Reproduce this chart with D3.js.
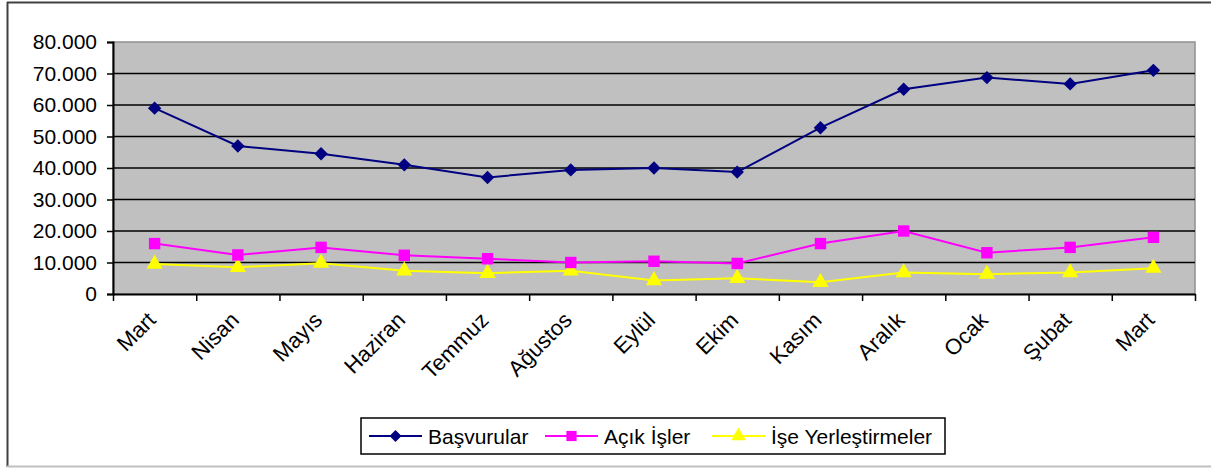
<!DOCTYPE html>
<html>
<head>
<meta charset="utf-8">
<script src="https://cdn.jsdelivr.net/npm/d3@7"></script>
<style>
  body { margin: 0; background: #fff; }
  text { font-family: "Liberation Sans", Arial, sans-serif; fill: #000; }
</style>
</head>
<body>
<div id="chart"></div>
<script>
var months = ["Mart", "Nisan", "Mayıs", "Haziran", "Temmuz", "Ağustos", "Eylül", "Ekim", "Kasım", "Aralık", "Ocak", "Şubat", "Mart"];
var basvurular = [59000, 47000, 44500, 41000, 37000, 39400, 40000, 38700, 52800, 65000, 68700, 66700, 71000];
var acikIsler = [16000, 12400, 14800, 12300, 11200, 10000, 10400, 9700, 16000, 20000, 13100, 14800, 18000];
var iseYerlestirmeler = [9500, 8500, 9800, 7400, 6600, 7400, 4300, 5000, 3700, 6800, 6300, 6800, 8200];
var yTicks = [0, 10000, 20000, 30000, 40000, 50000, 60000, 70000, 80000];
var yTickLabels = ["0", "10.000", "20.000", "30.000", "40.000", "50.000", "60.000", "70.000", "80.000"];
var seriesNames = ["Başvurular", "Açık İşler", "İşe Yerleştirmeler"];

var W = 1211, H = 468;
var plot = { left: 113, top: 42, right: 1195, bottom: 294 };

var svg = d3.select("#chart").append("svg")
  .attr("width", W).attr("height", H);

// outer frame
svg.append("line").attr("x1", 7).attr("x2", W).attr("y1", 2.5).attr("y2", 2.5)
  .attr("stroke", "#404040").attr("stroke-width", 2);
svg.append("line").attr("x1", 7.5).attr("x2", 7.5).attr("y1", 2).attr("y2", 467)
  .attr("stroke", "#404040").attr("stroke-width", 2);
svg.append("line").attr("x1", 7).attr("x2", W).attr("y1", 466.5).attr("y2", 466.5)
  .attr("stroke", "#c0c0c0").attr("stroke-width", 2);

var idx = d3.range(months.length);
var xBand = d3.scaleBand().domain(idx).range([plot.left, plot.right]).paddingInner(0).paddingOuter(0);
var xEdge = d3.scaleLinear().domain([0, months.length]).range([plot.left, plot.right]);
var y = d3.scaleLinear().domain([0, 80000]).range([plot.bottom, plot.top]);
var cx = i => xBand(i) + xBand.bandwidth() / 2;

// excel-style diamond (square rotated 45deg)
var diamond = {
  draw: function(ctx, size) {
    var r = Math.sqrt(size / 2);
    ctx.moveTo(0, -r); ctx.lineTo(r, 0); ctx.lineTo(0, r); ctx.lineTo(-r, 0); ctx.closePath();
  }
};

// plot background
svg.append("rect")
  .attr("x", plot.left).attr("y", plot.top)
  .attr("width", plot.right - plot.left).attr("height", plot.bottom - plot.top)
  .attr("fill", "#c0c0c0").attr("stroke", "#909090").attr("stroke-width", 1.5);

// gridlines
svg.append("g").selectAll("line")
  .data(yTicks.filter(d => d > 0 && d < 80000))
  .enter().append("line")
  .attr("x1", plot.left).attr("x2", plot.right)
  .attr("y1", d => y(d)).attr("y2", d => y(d))
  .attr("stroke", "#000").attr("stroke-width", 1.6);

// y axis
var yAxis = svg.append("g")
  .attr("transform", `translate(${plot.left},0)`)
  .call(d3.axisLeft(y).tickValues(yTicks).tickSize(6).tickPadding(10)
    .tickFormat((d, i) => yTickLabels[i]));
yAxis.select(".domain").attr("stroke", "#000").attr("stroke-width", 2);
yAxis.selectAll(".tick line").attr("stroke", "#000").attr("stroke-width", 1.5);
yAxis.selectAll(".tick text").attr("font-size", 21).attr("font-family", "Liberation Sans, Arial, sans-serif").attr("fill", "#000");

// x axis (ticks between categories)
var xAxis = svg.append("g")
  .attr("transform", `translate(0,${plot.bottom})`)
  .call(d3.axisBottom(xEdge).tickValues(d3.range(months.length + 1)).tickSize(7).tickSizeOuter(0).tickFormat(""));
xAxis.select(".domain").attr("stroke", "#000").attr("stroke-width", 2);
xAxis.selectAll(".tick line").attr("stroke", "#000").attr("stroke-width", 1.5);

svg.append("g").selectAll("text")
  .data(months)
  .enter().append("text")
  .attr("transform", (d, i) => `translate(${cx(i) - 3},${plot.bottom + 22}) rotate(-45)`)
  .attr("text-anchor", "end")
  .attr("dy", "0.35em")
  .attr("font-size", 22)
  .text(d => d);

// series
var series = [
  { name: seriesNames[0], values: basvurular, color: "#000080", marker: diamond, size: 90 },
  { name: seriesNames[1], values: acikIsler, color: "#ff00ff", marker: d3.symbolSquare, size: 130 },
  { name: seriesNames[2], values: iseYerlestirmeler, color: "#ffff00", marker: d3.symbolTriangle, size: 115 }
];

var line = d3.line().x((d, i) => cx(i)).y(d => y(d));

series.slice().reverse().forEach(s => {
  var g = svg.append("g");
  g.append("path")
    .attr("d", line(s.values))
    .attr("fill", "none").attr("stroke", s.color).attr("stroke-width", 2);
  g.selectAll("path.mk")
    .data(s.values)
    .enter().append("path")
    .attr("class", "mk")
    .attr("d", d3.symbol().type(s.marker).size(s.size))
    .attr("transform", (d, i) => `translate(${cx(i)},${y(d)})`)
    .attr("fill", s.color);
});

// legend
var legend = svg.append("g");
legend.append("rect")
  .attr("x", 361).attr("y", 418).attr("width", 584).attr("height", 36)
  .attr("fill", "#fff").attr("stroke", "#000").attr("stroke-width", 1.5);
var legX = [369, 545, 712];
series.forEach((s, i) => {
  var x0 = legX[i];
  legend.append("line")
    .attr("x1", x0).attr("x2", x0 + 53).attr("y1", 436).attr("y2", 436)
    .attr("stroke", s.color).attr("stroke-width", 2);
  legend.append("path")
    .attr("d", d3.symbol().type(s.marker).size(s.size * 0.8))
    .attr("transform", `translate(${x0 + 26.5},436)`)
    .attr("fill", s.color);
  legend.append("text")
    .attr("x", x0 + 59).attr("y", 443.5)
    .attr("font-size", 21)
    .text(s.name);
});
</script>
</body>
</html>
